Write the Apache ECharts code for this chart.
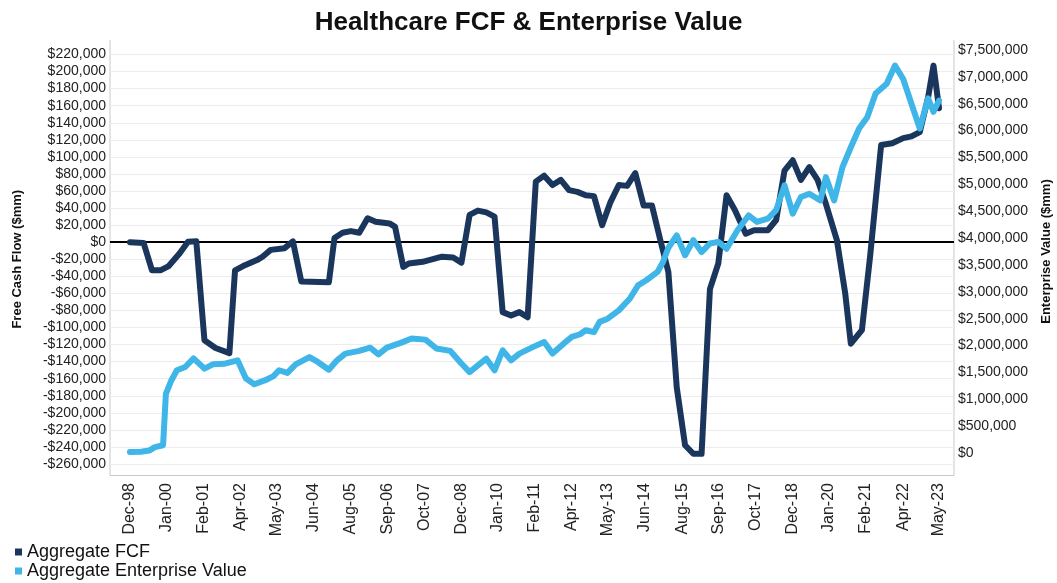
<!DOCTYPE html>
<html><head><meta charset="utf-8">
<script src="https://cdn.jsdelivr.net/npm/echarts@6/dist/echarts.min.js"></script>
<style>html,body{margin:0;padding:0;background:#fff}#c{width:1057px;height:583px}</style>
</head><body><div id="c"></div>
<script>
const chartTitle = 'Healthcare FCF & Enterprise Value';
const fcfName = 'Aggregate FCF';
const evName = 'Aggregate Enterprise Value';
const leftAxisName = 'Free Cash Flow ($mm)';
const rightAxisName = 'Enterprise Value ($mm)';

const fcfDates = ['1998-12','1999-05','1999-08','1999-11','2000-02','2000-06','2000-09','2000-12','2001-03','2001-07','2001-12','2002-02','2002-05','2002-10','2002-12','2003-03','2003-08','2003-11','2004-02','2004-12','2005-02','2005-05','2005-08','2005-11','2006-02','2006-05','2006-10','2006-12','2007-03','2007-05','2007-10','2008-05','2008-09','2008-12','2009-03','2009-06','2009-09','2009-12','2010-03','2010-06','2010-09','2010-12','2011-03','2011-06','2011-09','2011-12','2012-03','2012-06','2012-09','2012-12','2013-03','2013-06','2013-09','2013-12','2014-03','2014-06','2014-09','2014-12','2015-03','2015-06','2015-09','2015-12','2016-03','2016-06','2016-09','2016-12','2017-03','2017-07','2017-10','2018-03','2018-06','2018-09','2018-12','2019-03','2019-06','2019-09','2019-12','2020-04','2020-07','2020-09','2021-01','2021-04','2021-08','2021-12','2022-04','2022-07','2022-10','2023-01','2023-03','2023-05'];
const fcfValues = [0,-1000,-33000,-33000,-28000,-13000,500,1000,-115000,-124000,-130000,-33000,-28000,-21000,-17000,-9000,-7000,1000,-46000,-47000,5000,11000,13000,11000,28000,24000,22000,18000,-29000,-25000,-23000,-17000,-18000,-24000,32000,37000,35000,30000,-82000,-86000,-82000,-88000,71000,78000,67000,73000,61000,59000,55000,54000,20000,47000,67000,66000,81000,43000,43000,3000,-35000,-170000,-238000,-248000,-248000,-55000,-25000,55000,38000,10000,14000,14000,26000,84000,96000,73000,88000,73000,45000,2000,-60000,-119000,-103000,-17000,114000,116000,122000,124000,129000,170000,207000,157000];

const evDates = ['1998-12','1999-04','1999-07','1999-09','1999-12','2000-01','2000-03','2000-05','2000-08','2000-11','2001-03','2001-06','2001-10','2002-03','2002-06','2002-09','2003-01','2003-04','2003-06','2003-09','2003-12','2004-05','2004-08','2004-12','2005-03','2005-06','2005-11','2006-03','2006-06','2006-09','2007-02','2007-06','2007-11','2008-03','2008-08','2008-12','2009-03','2009-06','2009-09','2009-12','2010-03','2010-06','2010-09','2011-02','2011-06','2011-09','2012-01','2012-04','2012-07','2012-09','2012-12','2013-02','2013-05','2013-09','2014-01','2014-04','2014-07','2014-11','2015-01','2015-03','2015-06','2015-09','2015-12','2016-03','2016-06','2016-09','2016-12','2017-04','2017-08','2017-11','2018-03','2018-06','2018-09','2018-12','2019-03','2019-06','2019-10','2019-12','2020-03','2020-06','2020-09','2020-12','2021-03','2021-06','2021-10','2022-01','2022-04','2022-07','2022-10','2023-01','2023-03','2023-05'];
const evValues = [20000,25000,45000,110000,145000,1100000,1350000,1540000,1600000,1760000,1570000,1650000,1660000,1725000,1385000,1280000,1355000,1430000,1540000,1490000,1650000,1785000,1695000,1550000,1725000,1850000,1900000,1960000,1835000,1960000,2050000,2130000,2110000,1945000,1900000,1665000,1505000,1630000,1755000,1540000,1910000,1725000,1850000,1975000,2065000,1850000,2035000,2160000,2210000,2285000,2250000,2440000,2500000,2655000,2875000,3120000,3215000,3370000,3555000,3820000,4050000,3680000,3960000,3740000,3900000,3930000,3800000,4145000,4420000,4300000,4360000,4520000,4980000,4455000,4765000,4825000,4700000,5135000,4700000,5320000,5690000,6040000,6250000,6690000,6870000,7210000,6960000,6500000,6040000,6600000,6350000,6560000];

const xTickDates = ['1998-12-01','2000-01-10','2001-02-18','2002-04-01','2003-05-10','2004-06-18','2005-08-01','2006-09-07','2007-10-17','2008-12-01','2010-01-05','2011-02-13','2012-04-01','2013-05-05','2014-06-14','2015-08-01','2016-09-02','2017-10-12','2018-12-01','2020-01-01','2021-02-09','2022-04-01','2023-05-01'];
const xTickLabels = ['Dec-98','Jan-00','Feb-01','Apr-02','May-03','Jun-04','Aug-05','Sep-06','Oct-07','Dec-08','Jan-10','Feb-11','Apr-12','May-13','Jun-14','Aug-15','Sep-16','Oct-17','Dec-18','Jan-20','Feb-21','Apr-22','May-23'];
const xAxisStart = '1998-04-25';
const xAxisEnd = '2023-10-13';

const leftMin = -260000, leftMax = 220000, leftStep = 20000;
const rightMin = 0, rightMax = 7500000, rightStep = 500000;

const FONT = '"Liberation Sans", Arial, Helvetica, sans-serif';
function ts(s) { const p = s.split('-'); return Date.UTC(+p[0], +p[1] - 1, p[2] ? +p[2] : 1); }
const tickTimes = xTickDates.map(ts);
function xFmt(v) {
  let best = 0, bd = Infinity;
  tickTimes.forEach((t, i) => { const d = Math.abs(t - v); if (d < bd) { bd = d; best = i; } });
  return xTickLabels[best];
}
function money(v) { return (v < 0 ? '-' : '') + '$' + Math.abs(v).toLocaleString('en-US'); }

const chart = echarts.init(document.getElementById('c'), null, {renderer: 'canvas'});
chart.setOption({
  animation: false,
  backgroundColor: '#fff',
  textStyle: { fontFamily: FONT },
  title: { text: chartTitle, left: 'center', top: 5,
    textStyle: { fontFamily: FONT, fontSize: 26, fontWeight: 'bold', color: '#111' } },
  legend: { orient: 'vertical', left: 10, top: 538, height: 60, itemWidth: 7, itemHeight: 7, itemGap: 1,
    icon: 'rect', data: [fcfName, evName],
    textStyle: { fontFamily: FONT, fontSize: 18, color: '#111' } },
  grid: [
    { left: 110, right: 103, top: 54.5, height: 409.5, outerBoundsMode: 'none', containLabel: false },
    { left: 110, right: 103, top: 50, height: 403, outerBoundsMode: 'none', containLabel: false }
  ],
  xAxis: [
    { type: 'value', gridIndex: 0, min: ts(xAxisStart), max: ts(xAxisEnd),
      axisLine: { show: false }, axisTick: { show: false }, splitLine: { show: false },
      axisLabel: { customValues: tickTimes, rotate: 90, margin: 19, formatter: xFmt,
        fontFamily: FONT, fontSize: 16, color: '#222', hideOverlap: false } },
    { type: 'value', gridIndex: 1, min: ts(xAxisStart), max: ts(xAxisEnd), show: false }
  ],
  yAxis: [
    { type: 'value', gridIndex: 0, position: 'left', min: leftMin, max: leftMax, interval: leftStep,
      axisLine: { show: false }, axisTick: { show: false },
      splitLine: { lineStyle: { color: '#ececec', width: 1 } },
      axisLabel: { formatter: money, fontFamily: FONT, fontSize: 14, margin: 4, color: '#222' },
      name: leftAxisName, nameLocation: 'middle', nameRotate: 90, nameGap: 86,
      nameTextStyle: { fontFamily: FONT, fontWeight: 'bold', fontSize: 13, color: '#111' } },
    { type: 'value', gridIndex: 1, position: 'right', min: rightMin, max: rightMax, interval: rightStep,
      axisLine: { show: false }, axisTick: { show: false }, splitLine: { show: false },
      axisLabel: { formatter: money, fontFamily: FONT, fontSize: 14, margin: 4, color: '#222' },
      name: rightAxisName, nameLocation: 'middle', nameRotate: 90, nameGap: 86,
      nameTextStyle: { fontFamily: FONT, fontWeight: 'bold', fontSize: 13, color: '#111' } }
  ],
  graphic: [
    { type: 'polyline', silent: true, z: 0,
      shape: { points: [[110, 40], [110, 475.5], [954, 475.5], [954, 40]] },
      style: { stroke: '#c9c9c9', lineWidth: 1, fill: null } }
  ],
  series: [
    { name: fcfName, type: 'line', xAxisIndex: 0, yAxisIndex: 0, z: 2,
      data: fcfDates.map((d, i) => [ts(d), fcfValues[i]]),
      showSymbol: false, symbol: 'none', color: '#1b365d',
      lineStyle: { width: 6, color: '#1b365d', cap: 'round', join: 'round' },
      markLine: { silent: true, z: 1, symbol: 'none', label: { show: false },
        lineStyle: { color: '#000', width: 2, type: 'solid' }, data: [{ yAxis: 0 }] } },
    { name: evName, type: 'line', xAxisIndex: 1, yAxisIndex: 1, z: 3,
      data: evDates.map((d, i) => [ts(d), evValues[i]]),
      showSymbol: false, symbol: 'none', color: '#3fb5e8',
      lineStyle: { width: 6, color: '#3fb5e8', cap: 'round', join: 'round' } }
  ]
});
</script></body></html>
